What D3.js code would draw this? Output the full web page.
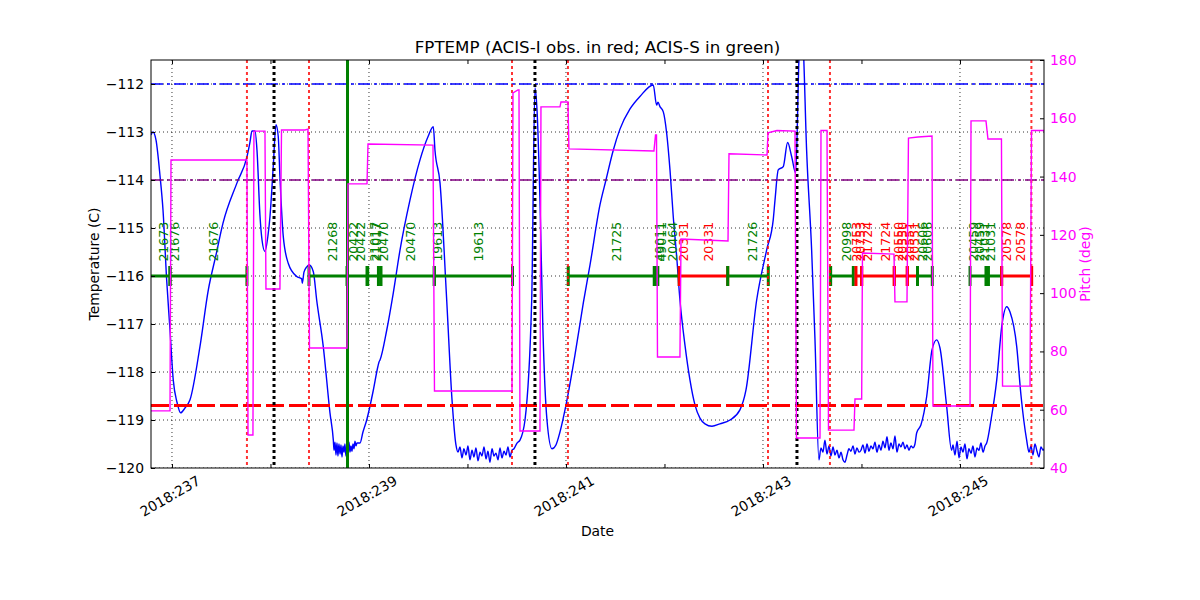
<!DOCTYPE html>
<html><head><meta charset="utf-8">
<script src="https://cdn.jsdelivr.net/npm/d3@7"></script>
<style>body{margin:0;background:#fff} text{font-family:"DejaVu Sans",sans-serif}</style>
</head><body><svg id="c" width="1200" height="600"></svg>
<script>
// ---------------- data ----------------
const tempTicks = [-112,-113,-114,-115,-116,-117,-118,-119,-120];
const pitchTicks = [40,60,80,100,120,140,160,180];
const dayTicks = [237,238,239,240,241,242,243,244,245];
const labeledDays = [237,239,241,243,245];
const limitValues = [-112,-114,-118.7];
const limitColors = ["#0000ff","#800080","#ff0000"];
const radZoneDays = [237.761,238.391,240.452,241.020,243.051,243.680,245.725];
const perigeeDays = [238.036,240.685,243.345];
const nowDays = [238.782];

const fptemp = [
[236.787,-113.06],[236.807,-113.00],[236.838,-113.17],[236.878,-113.90],[236.909,-114.63],[236.946,-116.08],[236.980,-117.13],[237.013,-118.17],[237.051,-118.63],[237.088,-118.85],[237.132,-118.75],[237.183,-118.58],[237.284,-117.47],[237.369,-116.29],[237.447,-115.56],[237.518,-114.90],[237.660,-114.06],[237.761,-113.52],[237.792,-113.21],[237.812,-112.98],[237.843,-112.98],[237.863,-113.38],[237.893,-114.73],[237.914,-115.25],[237.944,-115.49],[237.975,-115.15],[237.995,-114.76],[238.028,-113.72],[238.056,-112.85],[238.079,-113.10],[238.096,-113.93],[238.130,-115.18],[238.181,-115.74],[238.266,-116.01],[238.317,-116.06],[238.323,-116.15],[238.340,-115.92],[238.368,-115.81],[238.394,-115.77],[238.435,-115.91],[238.469,-116.50],[238.536,-117.47],[238.604,-118.85],[238.638,-119.42],
[238.645,-119.63],[238.655,-119.46],[238.665,-119.73],[238.675,-119.48],[238.685,-119.75],[238.695,-119.50],[238.706,-119.71],[238.716,-119.52],[238.726,-119.77],[238.736,-119.54],[238.746,-119.67],[238.756,-119.50],[238.766,-119.75],[238.777,-119.56],[238.787,-119.69],[238.797,-119.46],[238.807,-119.67],[238.817,-119.54],[238.827,-119.65],[238.838,-119.50],[238.848,-119.60],[238.858,-119.44],[238.868,-119.54],[238.878,-119.48],
[238.909,-119.48],[238.939,-119.25],[238.977,-119.00],[239.044,-118.38],[239.091,-117.88],[239.102,-117.79],[239.112,-117.75],[239.180,-117.13],[239.247,-116.35],[239.315,-115.46],[239.416,-114.42],[239.518,-113.58],[239.599,-113.10],[239.653,-112.89],[239.670,-113.38],[239.721,-114.06],[239.789,-116.50],[239.843,-118.58],[239.883,-119.52],
[239.904,-119.67],[239.924,-119.56],[239.944,-119.79],[239.964,-119.60],[239.985,-119.73],[240.005,-119.54],[240.025,-119.83],[240.046,-119.63],[240.066,-119.77],[240.086,-119.58],[240.107,-119.85],[240.127,-119.67],[240.147,-119.75],[240.168,-119.56],[240.188,-119.81],[240.208,-119.65],[240.228,-119.88],[240.249,-119.60],[240.269,-119.75],[240.289,-119.69],[240.310,-119.83],[240.330,-119.58],[240.350,-119.79],[240.371,-119.65],[240.391,-119.73],[240.411,-119.56],[240.431,-119.77],[240.452,-119.63],[240.472,-119.60],
[240.503,-119.48],[240.533,-119.42],[240.584,-119.00],[240.652,-116.50],[240.685,-112.08],[240.706,-112.54],[240.736,-114.42],[240.766,-117.13],[240.807,-119.00],[240.858,-119.60],[240.898,-119.52],[240.939,-119.25],[241.000,-118.69],[241.091,-117.65],[241.176,-116.56],[241.244,-115.77],[241.345,-114.52],[241.406,-114.00],[241.480,-113.38],[241.548,-112.94],[241.650,-112.52],[241.751,-112.26],[241.886,-112.02],[241.920,-112.44],[241.934,-112.38],[241.954,-112.47],[241.988,-112.58],[242.022,-113.02],[242.056,-113.79],[242.089,-114.76],[242.124,-115.60],[242.157,-116.50],[242.208,-117.44],[242.259,-118.17],[242.310,-118.69],[242.360,-118.96],[242.411,-119.08],[242.482,-119.13],[242.563,-119.08],[242.665,-119.00],[242.766,-118.79],[242.827,-118.38],[242.936,-116.50],[243.037,-115.46],[243.104,-114.83],[243.122,-114.42],[243.155,-113.79],[243.206,-113.72],[243.250,-113.22],[243.291,-113.51],[243.332,-113.86],[243.365,-111.50],[243.386,-110.67],[243.406,-111.08],[243.443,-113.38],[243.494,-115.46],[243.528,-117.33],[243.568,-119.83],
[243.589,-119.58],[243.609,-119.67],[243.629,-119.42],[243.650,-119.71],[243.670,-119.54],[243.690,-119.75],[243.711,-119.56],[243.731,-119.73],[243.751,-119.63],[243.772,-119.79],[243.792,-119.67],[243.812,-119.83],[243.832,-119.88],[243.853,-119.73],[243.873,-119.60],[243.893,-119.65],[243.914,-119.54],[243.934,-119.71],[243.954,-119.58],[243.975,-119.67],[243.995,-119.63],[244.015,-119.52],[244.036,-119.69],[244.056,-119.50],[244.076,-119.65],[244.096,-119.54],[244.117,-119.60],[244.137,-119.46],[244.157,-119.67],[244.178,-119.52],[244.198,-119.63],[244.218,-119.44],[244.239,-119.58],[244.259,-119.35],[244.279,-119.63],[244.299,-119.48],[244.320,-119.60],[244.340,-119.33],[244.360,-119.67],[244.381,-119.50],[244.401,-119.56],[244.421,-119.46],[244.442,-119.60],[244.462,-119.52],[244.482,-119.63],[244.503,-119.54],[244.523,-119.58],[244.543,-119.50],
[244.560,-119.27],[244.604,-119.10],[244.662,-118.51],[244.716,-117.54],[244.763,-117.33],[244.797,-117.50],[244.865,-118.72],[244.915,-119.63],
[244.929,-119.52],[244.949,-119.73],[244.970,-119.44],[244.990,-119.79],[245.010,-119.56],[245.030,-119.67],[245.051,-119.50],[245.071,-119.81],[245.091,-119.60],[245.112,-119.69],[245.132,-119.54],[245.152,-119.77],[245.173,-119.58],[245.193,-119.63],[245.213,-119.48],[245.234,-119.67],[245.254,-119.54],
[245.271,-119.48],[245.315,-119.00],[245.373,-118.17],[245.426,-117.02],[245.474,-116.64],[245.508,-116.75],[245.576,-117.47],[245.619,-118.48],[245.677,-119.42],
[245.701,-119.67],[245.721,-119.54],[245.741,-119.73],[245.761,-119.50],[245.782,-119.65],[245.802,-119.77],[245.822,-119.56],[245.843,-119.63],[245.853,-119.60]
];

const pitch = [
[236.787,59.6],[236.980,59.6],[236.990,145.7],[237.761,145.7],[237.772,51.3],[237.822,51.3],[237.832,155.6],[237.944,155.6],[237.954,101.4],[238.096,101.4],[238.112,156.0],[238.350,156.0],[238.381,156.3],[238.396,81.2],[238.777,81.2],[238.787,137.5],[238.980,137.5],[238.990,151.2],[239.650,150.8],[239.665,66.4],[240.452,66.4],[240.462,168.7],[240.513,169.7],[240.523,169.7],[240.533,52.7],[240.736,52.7],[240.746,163.9],[240.939,163.9],[240.949,165.6],[241.020,165.6],[241.030,149.5],[241.893,148.8],[241.909,154.3],[241.919,154.3],[241.929,78.1],[242.157,78.1],[242.168,118.6],[242.645,117.9],[242.655,147.8],[243.041,147.4],[243.051,155.0],[243.142,155.8],[243.325,155.6],[243.340,50.3],[243.579,50.3],[243.589,155.8],[243.650,155.8],[243.665,53.0],[243.924,53.0],[243.934,63.7],[244.002,63.7],[244.010,113.8],[244.330,113.4],[244.340,97.0],[244.462,97.0],[244.477,153.2],[244.574,153.6],[244.716,153.9],[244.726,61.3],[245.102,61.3],[245.112,159.1],[245.264,159.1],[245.284,152.9],[245.421,152.9],[245.432,68.1],[245.711,68.1],[245.726,155.8],[245.853,155.8]
];

const obsIds = ["21673","21676","21268","20422","21017","20470","19613","21725","49011","20464","20331","21726","20998","20753","21724","20550","20551","20606","20459","21031","20578"];
const obsStart = [236.726,236.980,238.391,238.782,238.987,239.122,239.663,241.023,241.909,241.931,242.150,242.642,243.687,243.944,244.002,244.333,244.465,244.569,245.102,245.289,245.423];
const obsStop  = [236.980,237.761,238.777,238.980,239.096,239.663,240.457,241.896,241.931,242.150,242.642,243.054,243.917,244.002,244.333,244.465,244.569,244.719,245.264,245.423,245.728];
const obsInstr = ["S","S","S","S","S","S","S","S","S","S","I","S","S","I","I","I","I","S","S","S","I"];

const labelDays = [236.912,237.023,237.426,238.632,238.841,238.914,239.061,239.081,239.145,239.426,239.698,240.110,241.508,241.954,241.970,242.083,242.191,242.445,242.895,243.850,243.954,243.995,244.066,244.239,244.371,244.421,244.492,244.543,244.624,244.675,245.142,245.203,245.254,245.305,245.474,245.614];
const labelTexts = ["21673","21676","21676","21268","20422","20422","21017","21017","20470","20470","19613","19613","21725","49011","49011","20464","20331","20331","21726","20998","20753","20753","21724","21724","20550","20550","20551","20551","20606","20606","20459","20459","21031","21031","20578","20578"];

// ---------------- drawing ----------------
const L=151,R=1044,T=60,B=468;
const GREEN="#008000", RED="#ff0000", MAG="#ff00ff";
const svg = d3.select("#c");
const x = d3.scaleLinear().domain([236.787,245.853]).range([L,R]);
const y = d3.scaleLinear().domain([-120,-111.5]).range([B,T]);
const y2 = d3.scaleLinear().domain([40,180]).range([B,T]);

svg.append("defs").append("clipPath").attr("id","clip")
  .append("rect").attr("x",L).attr("y",T).attr("width",R-L).attr("height",B-T);
const plot = svg.append("g").attr("clip-path","url(#clip)");

// grid
plot.selectAll("line.hg").data(tempTicks).join("line").attr("class","hg")
  .attr("x1",L).attr("x2",R).attr("y1",d=>y(d)).attr("y2",d=>y(d))
  .attr("stroke","#000").attr("stroke-width",0.8).attr("stroke-dasharray","1,3");
plot.selectAll("line.vg").data(labeledDays).join("line").attr("class","vg")
  .attr("x1",d=>x(d)).attr("x2",d=>x(d)).attr("y1",T).attr("y2",B)
  .attr("stroke","#000").attr("stroke-width",0.8).attr("stroke-dasharray","1,3");

// FPTEMP curve
plot.append("path").datum(fptemp)
  .attr("d", d3.line().curve(d3.curveMonotoneX).x(d=>x(d[0])).y(d=>y(d[1])))
  .attr("fill","none").attr("stroke","#0000ff").attr("stroke-width",1.4).attr("stroke-linejoin","round");

// limit lines
limitValues.forEach((v,i)=>{
  plot.append("line").attr("x1",L).attr("x2",R).attr("y1",y(v)).attr("y2",y(v))
    .attr("stroke",limitColors[i])
    .attr("stroke-width", i===2 ? 3 : 1.4)
    .attr("stroke-dasharray", i===2 ? "18,5" : "12,4,3,4");
});

// observations
const obsY = y(-116);
obsIds.forEach((id,i)=>{
  const c = obsInstr[i]==="I" ? RED : GREEN;
  plot.append("line").attr("x1",x(obsStart[i])).attr("x2",x(obsStop[i]))
    .attr("y1",obsY).attr("y2",obsY).attr("stroke",c).attr("stroke-width",3);
});
obsIds.forEach((id,i)=>{
  const c = obsInstr[i]==="I" ? RED : GREEN;
  [obsStart[i],obsStop[i]].forEach(t=>{
    plot.append("line").attr("x1",x(t)).attr("x2",x(t)).attr("y1",obsY-10).attr("y2",obsY+10)
      .attr("stroke",c).attr("stroke-width",3);
  });
});
const instrOf = id => obsInstr[obsIds.indexOf(id)];
plot.selectAll("text.ol").data(labelDays).join("text").attr("class","ol")
  .attr("transform",(d)=>`translate(${x(d)+4.5},${y(-115.7)}) rotate(-90)`)
  .attr("font-size","12.5px")
  .attr("fill",(d,i)=> instrOf(labelTexts[i])==="I" ? RED : GREEN)
  .text((d,i)=>labelTexts[i]);

// vertical event lines
plot.selectAll("line.rz").data(radZoneDays).join("line").attr("class","rz")
  .attr("x1",d=>x(d)).attr("x2",d=>x(d)).attr("y1",T).attr("y2",B)
  .attr("stroke",RED).attr("stroke-opacity",0.8).attr("stroke-width",2).attr("stroke-dasharray","3,3");
plot.selectAll("line.pg").data(perigeeDays).join("line").attr("class","pg")
  .attr("x1",d=>x(d)).attr("x2",d=>x(d)).attr("y1",T).attr("y2",B)
  .attr("stroke","#000").attr("stroke-width",3).attr("stroke-dasharray","3,3");
plot.selectAll("line.nw").data(nowDays).join("line").attr("class","nw")
  .attr("x1",d=>x(d)).attr("x2",d=>x(d)).attr("y1",T).attr("y2",B)
  .attr("stroke",GREEN).attr("stroke-width",3);

// pitch
plot.append("path").datum(pitch)
  .attr("d", d3.line().x(d=>x(d[0])).y(d=>y2(d[1])))
  .attr("fill","none").attr("stroke",MAG).attr("stroke-width",1.4);

// frame
svg.append("rect").attr("x",L).attr("y",T).attr("width",R-L).attr("height",B-T)
  .attr("fill","none").attr("stroke","#000").attr("stroke-width",1);

// axes
const fmtT = d3.format("d");
const ax1 = svg.append("g").attr("transform",`translate(${L},0)`)
  .call(d3.axisLeft(y).tickValues(tempTicks).tickFormat(fmtT).tickSize(-4).tickPadding(7));
const ax2 = svg.append("g").attr("transform",`translate(${R},0)`)
  .call(d3.axisRight(y2).tickValues(pitchTicks).tickSize(-4).tickPadding(6));
const axB = svg.append("g").attr("transform",`translate(0,${B})`)
  .call(d3.axisBottom(x).tickValues(dayTicks).tickSize(-4).tickFormat(""));
const axT = svg.append("g").attr("transform",`translate(0,${T})`)
  .call(d3.axisTop(x).tickValues(dayTicks).tickSize(-4).tickFormat(""));
[ax1,ax2,axB,axT].forEach(g=>{ g.select(".domain").remove(); g.selectAll("line").attr("stroke","#000"); g.selectAll("text").attr("font-size","13.9px").attr("font-family","DejaVu Sans"); });
ax2.selectAll("text").attr("fill",MAG);

svg.selectAll("text.xl").data(labeledDays).join("text").attr("class","xl")
  .attr("transform",d=>`translate(${x(d)-2},${496}) rotate(-30)`)
  .attr("text-anchor","middle").attr("dominant-baseline","central")
  .attr("font-size","13.9px").text(d=>"2018:"+d3.format("03d")(d));

// titles
svg.append("text").attr("x",(L+R)/2).attr("y",53).attr("text-anchor","middle")
  .attr("font-size","16.7px").text("FPTEMP (ACIS-I obs. in red; ACIS-S in green)");
svg.append("text").attr("x",(L+R)/2).attr("y",536).attr("text-anchor","middle")
  .attr("font-size","13.9px").text("Date");
svg.append("text").attr("transform",`translate(99,${(T+B)/2}) rotate(-90)`).attr("text-anchor","middle")
  .attr("font-size","13.9px").text("Temperature (C)");
svg.append("text").attr("transform",`translate(1090,${(T+B)/2}) rotate(-90)`).attr("text-anchor","middle")
  .attr("font-size","13.9px").attr("fill",MAG).text("Pitch (deg)");
</script></body></html>
